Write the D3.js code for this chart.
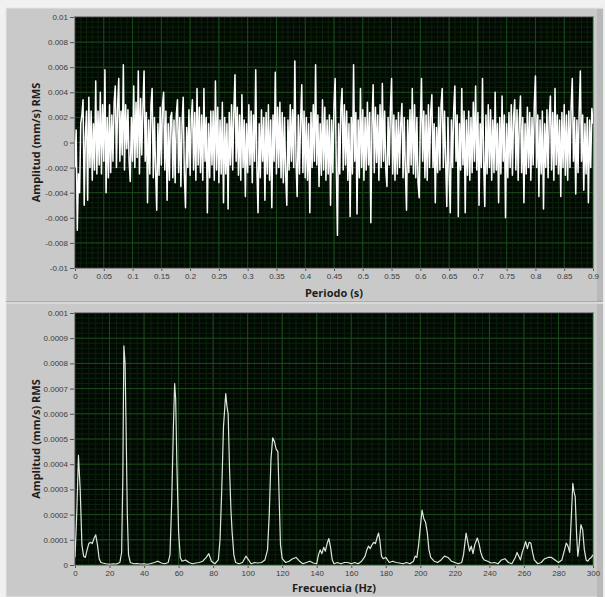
<!DOCTYPE html>
<html>
<head>
<meta charset="utf-8">
<script src="https://cdn.jsdelivr.net/npm/d3@7"></script>
<style>
  html, body { margin: 0; padding: 0; background: #f1f1f1; }
  svg { display: block; font-family: "Open Sans", "DejaVu Sans", sans-serif; }
</style>
</head>
<body>
<svg id="chart" width="605" height="597"></svg>
<script>
// ---- time signal (values in 1e-3 mm/s, one sample every 2 ms) ----
const sigStep = 0.002;
const sigValues = [
  -2, 1, -7, -2.5, -4, 1.5, 2.2, 3.4, -5, 0.5,
  2.5, -4.6, 3.6, -2, 2.5, -3, 1.5, -2.2, 4.9, -2.5,
  2.5, -1.8, 4, -2.5, 3, -1.5, 5.8, -4, 2, -2.8,
  3, -2.4, 2.2, -1.5, 3.2, 4.5, -2, 2.8, 5.1, -1.5,
  2.5, -1, 6.2, -2.2, 3, -0.5, 2.6, -1.5, -3.1, 2,
  -1.5, 4.5, -2, 3.2, -1.2, 5.7, -2.5, 3.5, -1, 2.8,
  5.7, -1.5, 2.4, -4.8, 1.8, -2.5, 3, 4.3, -2.8, 2,
  -2.2, -5.4, 1.5, -2.6, 2.8, -1.8, 3, 4, -2.2, 2.5,
  -4.6, 1.5, -3, 2, 2.4, -2.8, 1.8, -3.2, 2.2, 3.4,
  -2.4, 2, -3.5, 1.5, 3.6, -2.5, -5.2, 1.2, -2, 2.6,
  -2.6, 1.8, 3.4, -2.2, 2.4, -3, 4.3, -1.8, 2.8, -2.4,
  2.2, -3, 4.3, -1.5, 2, -5.6, 1.5, -2.8, 2.5, -1.8,
  2.5, -3, 4.9, -2.2, 2.8, -3.2, 1.8, -2.5, 3.2, -4.8,
  2, -2.5, 1.5, -5.3, 2.4, -1.8, 3, -2.2, 2.5, 5.4,
  -1.5, 2.8, -2.6, 2.2, -3, 3.8, -2, 1.8, -4.3, 1.5,
  -2.4, 3, -1.8, 2.5, -3.2, 2.2, -1.5, 5.8, -2, -5.6,
  1.5, -2.8, 2.6, -1.5, 2, -4.6, 2.4, -2.5, 3, -3,
  1.8, -5.2, 2.2, -1.5, 5.6, -2.5, 2.8, -2, 3.2, -2.8,
  2.4, -3.2, 2, -2.5, -5, 1.8, -2.2, 3, -1.5, 2.6,
  -2, 6.5, -1.5, -4.3, 2.2, -2.5, 1.8, 4.6, -2.4, 2.5,
  -2.8, 2, -3, 1.5, -5.6, 2.4, -2, 3, -1.5, 6.2,
  -1.8, 2.2, -3.5, 1.5, -2.6, 3.4, -2.2, 2.8, -3, 1.8,
  -2.5, 2.2, -5, 1.8, -2.4, 3, 5.1, -2, -7.4, 1.5,
  -2.5, 2.8, 4.3, -2.2, 3, -1.8, 2.5, -3, 1.5, -5.9,
  2, -2.5, 6.2, -1.5, 2.4, -5.7, 1.8, -2.8, 4.3, -2,
  2.6, -3, 2, -2.2, 3.2, -1.8, 2.4, -6.4, 1.5, 4.6,
  -2.4, 2.8, -1.6, 2.2, -3, 3, -2, 4.7, -1.5, 2.5,
  -2.2, -3.5, 2, -1.8, 2.6, 5.1, -2.5, 2.2, -3, 1.8,
  -2.5, 2.4, -2, 1.5, 3.1, -2.8, 2, -2.2, -5.4, 1.8,
  -2.4, 2.6, -1.8, 4.3, -2.5, 3, -2.8, 2, -3.2, -4.4,
  1.5, 5.1, -1.5, 2.5, -2.8, 2.2, -3, 3, -2, 2.4,
  3.8, -2, 1.5, -4.8, 1.2, -2.4, 2.8, -2.2, 3, 4.3,
  -2, 2.5, -1.5, -5.1, 2, -2.5, -5.6, 1.8, -2, 2.6,
  4.5, -1.5, 2.2, -5.9, 1.5, -2.2, 4.3, -1.8, 2.5, -5.6,
  1.8, -2.6, 2.5, -3, 2, -2.4, 3.2, -1.5, 4.5, -2.2,
  2.4, -5, 1.5, -2, 5.1, -1.5, -5.1, 2.2, -2.5, 3,
  -2, 2.6, -3, 1.8, -2.4, 4, -2.2, 1.5, -4.8, 2,
  -2.5, 3.7, -1.5, 2.2, -6, 1.5, -2.8, 2.4, -2, 3,
  -2.6, 2, 3.4, -2.2, 2.6, -3, 1.8, 3.7, -2.4, 2,
  -4.8, 1.5, -2.5, 2.8, -2, 2.4, -3, 2, -1.8, 3,
  5.3, -2, 2.2, -4.3, 1.8, -2.5, 2.5, -5.3, 1.5, -2,
  2.6, -2.8, 2, 3.7, -2.2, 2.4, -3, 4.3, -1.8, 2.2,
  -2.5, 1.8, -4.3, 2.4, -2, 3, -2.6, 2.2, -3, 2.5,
  -2, 2.8, 5.1, -1.5, 2, -4.1, 1.8, -2.4, 2.5, 5.7,
  -1.5, 2.2, -3.8, 1.5, -2.5, 2, -4.8, 1.8, -2, 2.7,
  1.5
];

// ---- spectrum (frequency in Hz, amplitude in 1e-4 mm/s RMS) ----
const specFreq = [
  0, 1, 2, 3, 4, 5, 6, 7, 8, 9, 10, 11, 12, 13, 14, 15, 16, 18, 20, 22, 24, 26,
  27, 27.7, 28.3, 29, 29.6, 30.3, 31, 32, 34, 36, 38, 40, 42, 44, 46, 48, 50, 52, 54,
  55, 56, 57, 57.7, 58.3, 59, 60, 61, 62, 64, 66, 68, 70, 72, 74, 76, 77.5, 79, 81, 83,
  84, 85, 86, 87.3, 88, 88.7, 89.5, 90.3, 91, 92, 93, 95, 97, 99, 100.5, 102, 104, 106, 108, 110,
  111.5, 112.5, 113.5, 114.5, 115.5, 116.5, 117.5, 118.3, 119, 120, 122, 124, 126, 128, 130, 132, 134, 136, 138,
  140, 141, 142, 143, 144, 145, 146, 147, 148, 149, 150, 152, 154, 156, 158, 160, 162, 164, 166,
  168, 169, 170, 171, 172, 173, 174, 175, 175.8, 176.5, 177.5, 178.5, 180, 182, 184, 186, 188, 190, 192, 194,
  196, 197, 198, 199, 200, 201, 202, 203, 204, 205, 206, 208, 210, 212, 214, 216, 218, 220, 222, 224,
  225, 226.5, 227.5, 228.5, 229.5, 230.5, 231.5, 233, 234, 235, 236, 237, 239, 241, 243, 245, 247, 249, 251, 253,
  255, 256, 257, 258, 259, 260, 261, 262, 263, 264, 265, 266, 268, 270, 272, 274, 276, 278, 280, 282,
  283.5, 284.5, 285.5, 286.5, 287.5, 288.3, 289, 289.7, 290.5, 291.2, 292, 293, 294, 295, 296, 297, 298, 299, 300
];
const specAmp = [
  0.3, 2.0, 4.35, 3.0, 0.8, 0.35, 0.3, 0.6, 0.85, 0.9, 0.85, 1.05, 1.2, 0.8, 0.25, 0.1, 0.08, 0.05, 0.03, 0.05, 0.04, 0.1,
  0.5, 3.5, 8.7, 8.0, 5.4, 2.0, 0.4, 0.1, 0.05, 0.06, 0.04, 0.05, 0.03, 0.06, 0.1, 0.15, 0.08, 0.05, 0.1,
  0.4, 2.5, 5.5, 7.2, 6.6, 4.0, 1.3, 0.3, 0.15, 0.2, 0.1, 0.05, 0.08, 0.1, 0.15, 0.3, 0.45, 0.15, 0.05, 0.2,
  1.0, 3.0, 5.5, 6.8, 6.3, 6.0, 3.8, 2.2, 1.3, 0.4, 0.1, 0.05, 0.1, 0.35, 0.2, 0.05, 0.1, 0.08, 0.1, 0.2,
  0.6, 2.0, 4.2, 5.05, 4.9, 4.6, 4.5, 2.5, 0.8, 0.25, 0.1, 0.15, 0.25, 0.3, 0.15, 0.05, 0.1, 0.15, 0.08,
  0.05, 0.4, 0.6, 0.45, 0.7, 0.55, 0.85, 1.05, 0.7, 0.2, 0.05, 0.1, 0.05, 0.1, 0.1, 0.05, 0.1, 0.05, 0.15,
  0.35, 0.6, 0.75, 0.65, 0.8, 0.9, 0.85, 1.1, 1.27, 1.0, 0.35, 0.25, 0.3, 0.1, 0.15, 0.1, 0.08, 0.05, 0.1, 0.05,
  0.15, 0.35, 0.3, 0.8, 1.5, 2.18, 1.85, 1.7, 1.3, 0.6, 0.3, 0.15, 0.1, 0.2, 0.35, 0.3, 0.15, 0.1, 0.05, 0.1,
  0.4, 1.27, 0.9, 0.55, 0.75, 0.45, 0.8, 1.07, 0.85, 0.5, 0.3, 0.2, 0.15, 0.08, 0.1, 0.05, 0.2, 0.25, 0.1, 0.05,
  0.3, 0.5, 0.35, 0.2, 0.5, 0.7, 0.93, 0.65, 0.9, 0.87, 0.5, 0.2, 0.05, 0.1, 0.25, 0.3, 0.3, 0.2, 0.1, 0.2,
  0.6, 0.87, 0.75, 0.5, 2.0, 3.24, 2.9, 2.7, 1.2, 0.35, 0.8, 1.6, 1.4, 0.6, 0.2, 0.15, 0.25, 0.3, 0.4
];

// ---- axis ticks ----
const topXTicks = [0, 0.05, 0.1, 0.15, 0.2, 0.25, 0.3, 0.35, 0.4, 0.45, 0.5, 0.55, 0.6, 0.65, 0.7, 0.75, 0.8, 0.85, 0.9];
const topYTicks = [0.01, 0.008, 0.006, 0.004, 0.002, 0, -0.002, -0.004, -0.006, -0.008, -0.01];
const botXTicks = [0, 20, 40, 60, 80, 100, 120, 140, 160, 180, 200, 220, 240, 260, 280, 300];
const botYTicks = [0, 0.0001, 0.0002, 0.0003, 0.0004, 0.0005, 0.0006, 0.0007, 0.0008, 0.0009, 0.001];

const svg = d3.select('#chart');

// window frames
const frames = [{ y: 8, h: 293 }, { y: 303, h: 294 }];
frames.forEach(f => {
  svg.append('rect').attr('x', 6).attr('y', f.y).attr('width', 597).attr('height', f.h)
    .attr('fill', '#c9c9c9').attr('stroke', '#e6e6e6').attr('stroke-width', 1);
  svg.append('rect').attr('x', 597).attr('y', f.y + 1).attr('width', 6).attr('height', f.h - 1)
    .attr('fill', '#b9b9b9');
});
svg.append('line').attr('x1', 6).attr('x2', 603).attr('y1', 301.5).attr('y2', 301.5)
  .attr('stroke', '#a9a9a9').attr('stroke-width', 1.5);

const drawPanel = (cfg) => {
  const x = d3.scaleLinear().domain(cfg.xDomain).range([75, 593]);
  const y = d3.scaleLinear().domain(cfg.yDomain).range([cfg.bottom, cfg.top]);

  const g = svg.append('g');
  g.append('rect')
    .attr('x', 75).attr('y', cfg.top)
    .attr('width', 518).attr('height', cfg.bottom - cfg.top)
    .attr('fill', '#020802');

  // minor grid
  const xMinor = d3.range(0, (cfg.xTicks.length - 1) * 5 + 1).map(k => cfg.xDomain[0] + k * cfg.xStep / 5);
  const yMinor = d3.range(0, (cfg.yTicks.length - 1) * 5 + 1).map(k => cfg.yDomain[0] + k * cfg.yStep / 5);
  g.append('g').selectAll('line').data(xMinor).enter().append('line')
    .attr('x1', d => x(d)).attr('x2', d => x(d))
    .attr('y1', cfg.top).attr('y2', cfg.bottom)
    .attr('stroke', '#0b220c').attr('stroke-width', 1);
  g.append('g').selectAll('line').data(yMinor).enter().append('line')
    .attr('y1', d => y(d)).attr('y2', d => y(d))
    .attr('x1', 75).attr('x2', 593)
    .attr('stroke', '#0b220c').attr('stroke-width', 1);

  // major grid
  g.append('g').selectAll('line').data(cfg.xTicks).enter().append('line')
    .attr('x1', d => x(d)).attr('x2', d => x(d))
    .attr('y1', cfg.top).attr('y2', cfg.bottom)
    .attr('stroke', '#1b4a1c').attr('stroke-width', 1);
  g.append('g').selectAll('line').data(cfg.yTicks).enter().append('line')
    .attr('y1', d => y(d)).attr('y2', d => y(d))
    .attr('x1', 75).attr('x2', 593)
    .attr('stroke', '#1b4a1c').attr('stroke-width', 1);

  // trace
  g.append('path')
    .datum(cfg.points)
    .attr('fill', 'none')
    .attr('stroke', cfg.color)
    .attr('stroke-width', cfg.lineWidth)
    .attr('stroke-linejoin', 'round')
    .attr('d', d3.line().x(d => x(d[0])).y(d => y(d[1])));

  g.append('rect')
    .attr('x', 74.5).attr('y', cfg.top - 0.5)
    .attr('width', 519).attr('height', cfg.bottom - cfg.top + 1)
    .attr('fill', 'none').attr('stroke', '#8a8a8a');

  // axes
  const yAxis = g.append('g')
    .attr('transform', 'translate(74,0)')
    .call(d3.axisLeft(y).tickValues(cfg.yTicks).tickSize(4).tickPadding(2).tickFormat(d => String(d)));
  const xAxis = g.append('g')
    .attr('transform', `translate(0,${cfg.bottom + 1})`)
    .call(d3.axisBottom(x).tickValues(cfg.xTicks).tickSize(2).tickPadding(2).tickFormat(d => String(d)));
  [yAxis, xAxis].forEach(a => {
    a.select('.domain').remove();
    a.selectAll('line').attr('stroke', '#555');
    a.selectAll('text').attr('fill', '#3c3c3c').style('font-size', '8px');
  });

  g.append('text')
    .attr('x', 334).attr('y', cfg.xTitleY)
    .attr('text-anchor', 'middle')
    .attr('fill', '#1e1e1e')
    .style('font-size', '11px').style('font-weight', 'bold')
    .text(cfg.xTitle);
  g.append('text')
    .attr('transform', `translate(40,${(cfg.top + cfg.bottom) / 2}) rotate(-90)`)
    .attr('text-anchor', 'middle')
    .attr('fill', '#1e1e1e')
    .style('font-size', '11px').style('font-weight', 'bold')
    .text('Amplitud (mm/s) RMS');
};

drawPanel({
  top: 17, bottom: 268,
  xDomain: [0, 0.9], yDomain: [-0.01, 0.01],
  xTicks: topXTicks, yTicks: topYTicks, xStep: 0.05, yStep: 0.002,
  points: sigValues.map((v, i) => [i * sigStep, v * 1e-3]),
  color: '#ffffff', lineWidth: 1.5,
  xTitle: 'Periodo (s)', xTitleY: 297
});

drawPanel({
  top: 313, bottom: 565,
  xDomain: [0, 300], yDomain: [0, 0.001],
  xTicks: botXTicks, yTicks: botYTicks, xStep: 20, yStep: 0.0001,
  points: specFreq.map((f, i) => [f, specAmp[i] * 1e-4]),
  color: '#dfe6dc', lineWidth: 1.2,
  xTitle: 'Frecuencia (Hz)', xTitleY: 592
});
</script>
</body>
</html>
